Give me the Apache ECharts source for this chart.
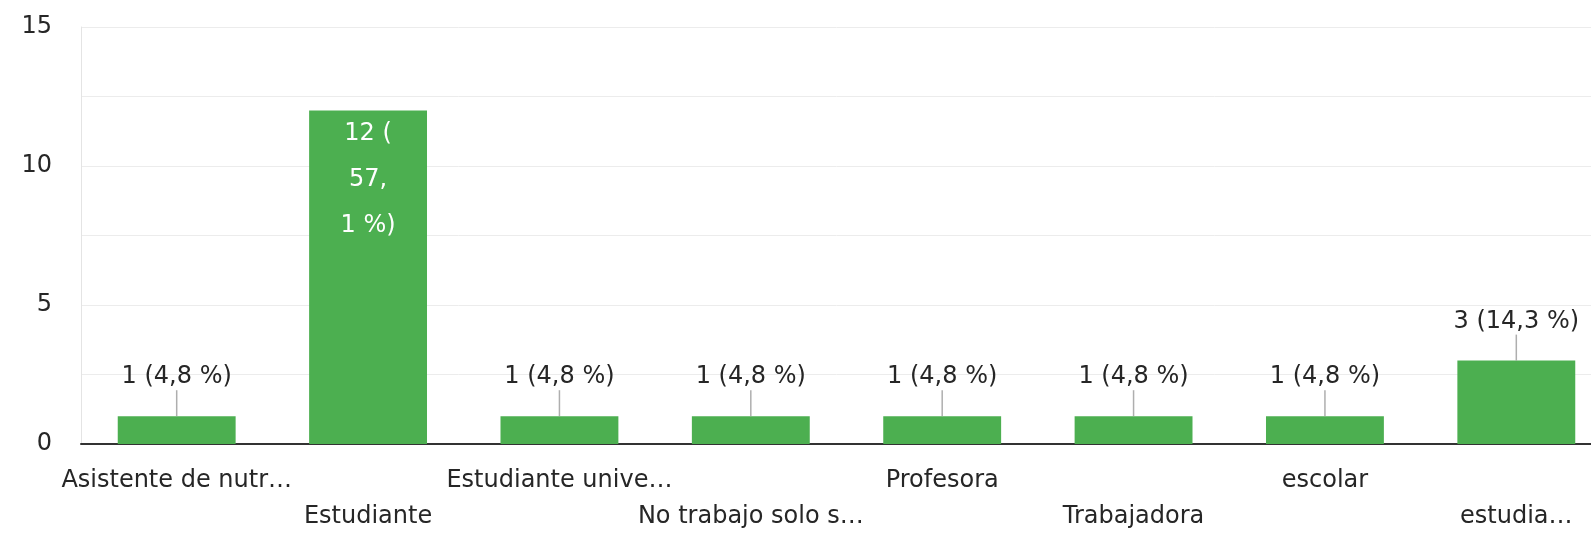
<!DOCTYPE html>
<html>
<head>
<meta charset="utf-8">
<script src="https://cdn.jsdelivr.net/npm/echarts@6/dist/echarts.min.js"></script>
<style>
html,body{margin:0;padding:0;background:#fff;}
#chart{width:1591px;height:533px;}
</style>
</head>
<body>
<div id="chart"></div>
<script>
var categories = ['Asistente de nutr…', 'Estudiante', 'Estudiante unive…', 'No trabajo solo s…', 'Profesora', 'Trabajadora', 'escolar', 'estudia…'];
var values = [1, 12, 1, 1, 1, 1, 1, 3];
var percents = ['4,8', '57,1', '4,8', '4,8', '4,8', '4,8', '4,8', '14,3'];
var yTicks = [0, 5, 10, 15];

var FONT = 'DejaVu Sans';
var TXT = '#262626';

var barData = values.map(function (v, i) {
  var item = { value: v };
  if (i === 1) {
    var parts = percents[i].split(',');
    item.label = {
      position: 'insideTop',
      distance: 0,
      color: '#fff',
      lineHeight: 46,
      formatter: v + ' (\n' + parts[0] + ',\n' + parts[1] + ' %)'
    };
  }
  return item;
});

var leaderData = values.map(function (v, i) { return i === 1 ? '-' : v; });

var chart = echarts.init(document.getElementById('chart'), null, { renderer: 'canvas' });
chart.setOption({
  animation: false,
  backgroundColor: '#fff',
  grid: { left: 81, top: 27, bottom: 89, right: -21, outerBoundsMode: 'none', containLabel: false },
  xAxis: {
    type: 'category',
    data: categories,
    axisLine: { show: true, lineStyle: { color: '#333', width: 2 } },
    axisTick: { show: false },
    splitLine: { show: false },
    axisLabel: {
      interval: 0,
      margin: 19,
      color: TXT,
      fontFamily: FONT,
      fontSize: 24,
      lineHeight: 36,
      hideOverlap: false,
      formatter: function (val, idx) { return idx % 2 ? '\n' + val : val; }
    }
  },
  yAxis: {
    type: 'value',
    min: 0,
    max: 15,
    interval: 2.5,
    axisLine: { show: true, lineStyle: { color: '#e4e4e4', width: 1 } },
    axisTick: { show: false },
    splitLine: { show: true, lineStyle: { color: '#ececec', width: 1 } },
    axisLabel: {
      margin: 29,
      color: TXT,
      fontFamily: FONT,
      fontSize: 24,
      padding: [6, 0, 0, 0],
      formatter: function (v) { return yTicks.indexOf(v) >= 0 ? String(v) : ''; }
    }
  },
  series: [
    {
      type: 'bar',
      data: barData,
      barWidth: '61.6%',
      itemStyle: { color: '#4caf50' },
      z: 2,
      label: {
        show: true,
        position: 'top',
        distance: 27,
        color: TXT,
        fontFamily: FONT,
        fontSize: 24,
        formatter: function (p) { return p.value + ' (' + percents[p.dataIndex] + ' %)'; }
      }
    },
    {
      type: 'scatter',
      data: leaderData,
      symbol: 'rect',
      symbolSize: [1.5, 26],
      symbolOffset: [0, -13],
      itemStyle: { color: '#9a9a9a' },
      silent: true,
      z: 3
    }
  ]
});
</script>
</body>
</html>
